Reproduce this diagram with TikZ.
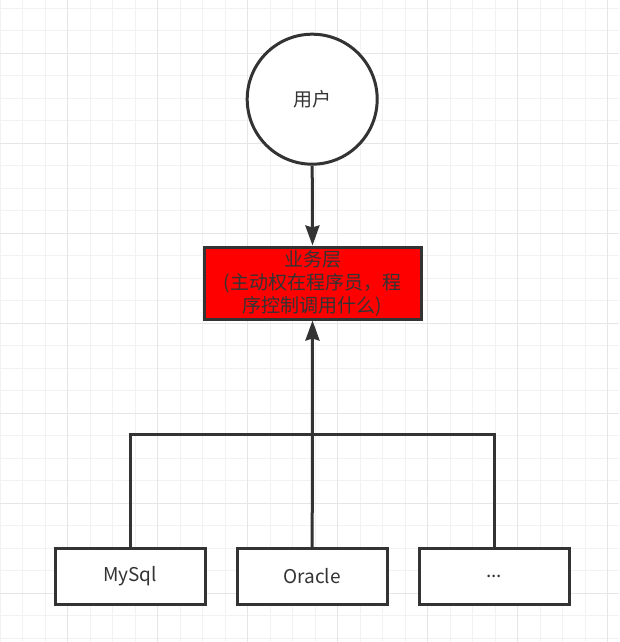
\documentclass[tikz,border=0pt]{standalone}
\usepackage{fontspec}
\newfontfamily\cjk{Noto Sans CJK SC}
\usetikzlibrary{arrows.meta}
\definecolor{ink}{HTML}{333333}
\definecolor{gridminor}{HTML}{F2F2F2}
\definecolor{gridmajor}{HTML}{E6E6E6}
\tikzset{
  every node/.style={font=\cjk\fontsize{19}{23}\selectfont, text=ink},
  shapebox/.style={draw=ink, line width=3pt, fill=white, inner sep=0pt},
  dbbox/.style={shapebox, rectangle, minimum width=150pt, minimum height=55.5pt},
  conn/.style={draw=ink, line width=3pt},
  arr/.style={conn, -{Stealth[length=20pt,width=14pt,inset=2pt]}},
}
\begin{document}
\begin{tikzpicture}[x=1pt,y=-1pt]
\useasboundingbox (0,0) rectangle (619,642);
\fill[white] (0,0) rectangle (619,642);
% grid
\foreach \x in {0.2,22.7,...,619} \draw[gridminor, line width=1.2pt] (\x,0) -- (\x,642);
\foreach \y in {8.3,30.8,...,642} \draw[gridminor, line width=1.2pt] (0,\y) -- (619,\y);
\foreach \x in {67.7,157.7,...,619} \draw[gridmajor, line width=1.2pt] (\x,0) -- (\x,642);
\foreach \y in {53.3,143.3,...,642} \draw[gridmajor, line width=1.2pt] (0,\y) -- (619,\y);
% nodes
\node[shapebox, circle, minimum size=130pt] (user) at (312.2,99.2) {用户};
\node[shapebox, rectangle, fill=red, minimum width=217pt, minimum height=72pt, align=center] (biz) at (312.5,283) {业务层\\(主动权在程序员，程\\序控制调用什么)};
\node[dbbox] (mysql) at (130.2,576.3) {MySql};
\node[dbbox] (oracle) at (312.2,576.3) {Oracle};
\node[dbbox] (dots) at (494.2,576.3) {...};
\coordinate (j) at (312.2,434);
% connectors
\draw[arr] (user.south) -- (biz.north);
\draw[conn] (mysql.north) |- (j);
\draw[conn] (dots.north) |- (j);
\draw[arr] (oracle.north) -- (biz.south);
\end{tikzpicture}
\end{document}
